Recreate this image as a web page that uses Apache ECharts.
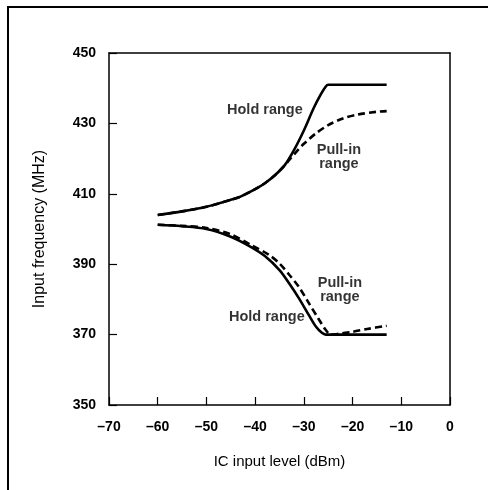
<!DOCTYPE html>
<html>
<head>
<meta charset="utf-8">
<script src="https://cdn.jsdelivr.net/npm/echarts@6/dist/echarts.min.js"></script>
<style>
html, body { margin: 0; padding: 0; background: #fff; }
#chart { width: 488px; height: 490px; }
</style>
</head>
<body>
<div id="chart"></div>
<script>
// values (x = dBm, y = MHz)
var holdUpperX = [-60, -55, -50, -45, -43, -40, -38, -36, -34, -32, -30, -28, -26.5, -25.5, -25, -20, -13];
var holdUpperY = [404, 405, 406.3, 408.3, 409.2, 411.3, 413, 415.2, 418, 422.5, 428, 434.3, 438.3, 440.5, 441, 441, 441];
var pullUpperX = [-60, -55, -50, -45, -43, -40, -38, -36, -34, -33, -31.5, -30, -27.5, -25, -22, -19, -15, -13];
var pullUpperY = [404, 405, 406.3, 408.3, 409.2, 411.3, 413, 415.2, 418, 419.6, 422, 424.2, 427.2, 429.5, 431.4, 432.5, 433.3, 433.5];
var holdLowerX = [-60, -55, -50, -45, -41, -38, -35, -33, -31, -29, -27.5, -26.3, -25.5, -20, -13];
var holdLowerY = [401.2, 400.8, 400, 397.8, 395, 392.3, 388.3, 384.5, 380.3, 375.6, 372.2, 370.5, 370, 370, 370];
var pullLowerX = [-60, -55, -50, -45, -41, -37, -35, -33, -31, -29, -27, -25.5, -24.5, -23, -20, -17, -13];
var pullLowerY = [401.2, 400.9, 400.3, 398.5, 395.6, 392.5, 390.2, 387, 383.5, 379, 374.5, 371.3, 370, 370.2, 370.8, 371.6, 372.5];

var labelTexts = ['Hold range', 'Pull-in\nrange', 'Pull-in\nrange', 'Hold range'];
var labelX = [-38, -22.8, -22.6, -37.6];
var labelY = [433.8, 420.5, 382.7, 375];

function pairs(xs, ys) {
    var out = [];
    for (var i = 0; i < xs.length; i++) {
        out.push([xs[i], ys[i]]);
    }
    return out;
}

var labelData = [];
for (var i = 0; i < labelTexts.length; i++) {
    labelData.push({ value: [labelX[i], labelY[i]], name: labelTexts[i] });
}

var font = 'Liberation Sans, Arial, sans-serif';

function lineSeries(data, dashed) {
    return {
        type: 'line',
        data: data,
        smooth: 0.3,
        showSymbol: false,
        silent: true,
        lineStyle: {
            color: '#000',
            width: 2.6,
            type: dashed ? [7, 4] : 'solid'
        }
    };
}

// plain lines for the top and right sides of the box
var frameAxis = {
    axisLine: { show: true, onZero: false, lineStyle: { color: '#000', width: 1.5 } },
    axisTick: { show: false },
    axisLabel: { show: false },
    splitLine: { show: false }
};

var chart = echarts.init(document.getElementById('chart'));
var option = {
    animation: false,
    backgroundColor: '#fff',
    grid: {
        left: 109,
        right: 38,
        top: 53,
        bottom: 85
    },
    xAxis: [{
        type: 'value',
        min: -70,
        max: 0,
        interval: 10,
        name: 'IC input level (dBm)',
        nameLocation: 'middle',
        nameGap: 49,
        nameTextStyle: { color: '#000', fontSize: 15, fontFamily: font },
        axisLine: { onZero: false, lineStyle: { color: '#000', width: 1.5 } },
        axisTick: { inside: true, length: 8, lineStyle: { color: '#000', width: 1.2 } },
        splitLine: { show: false },
        axisLabel: {
            color: '#000',
            fontSize: 14,
            fontWeight: 'bold',
            fontFamily: font,
            margin: 15,
            formatter: function (v) { return String(v).replace('-', '\u2013'); }
        }
    }, Object.assign({ type: 'value', position: 'top', min: -70, max: 0 }, frameAxis)],
    yAxis: [{
        type: 'value',
        min: 350,
        max: 450,
        interval: 20,
        name: 'Input frequency (MHz)',
        nameLocation: 'middle',
        nameGap: 61,
        nameTextStyle: { color: '#000', fontSize: 16, fontFamily: font },
        axisLine: { show: true, onZero: false, lineStyle: { color: '#000', width: 1.5 } },
        axisTick: { show: true, inside: true, length: 8, lineStyle: { color: '#000', width: 1.2 } },
        splitLine: { show: false },
        axisLabel: {
            color: '#000',
            fontSize: 14,
            fontWeight: 'bold',
            fontFamily: font,
            margin: 13
        }
    }, Object.assign({ type: 'value', position: 'right', min: 350, max: 450 }, frameAxis)],
    graphic: [{
        type: 'polyline',
        shape: { points: [[8, 490], [8, 7], [488, 7]] },
        style: { stroke: '#000', lineWidth: 2, fill: null }
    }],
    series: [
        lineSeries(pairs(holdUpperX, holdUpperY), false),
        lineSeries(pairs(pullUpperX, pullUpperY), true),
        lineSeries(pairs(holdLowerX, holdLowerY), false),
        lineSeries(pairs(pullLowerX, pullLowerY), true),
        {
            type: 'scatter',
            data: labelData,
            symbolSize: 0,
            silent: true,
            label: {
                show: true,
                position: 'inside',
                formatter: function (p) { return p.name; },
                color: '#000',
                fontSize: 14.5,
                fontWeight: 'bold',
                fontFamily: font,
                lineHeight: 14,
                align: 'center'
            }
        }
    ]
};
chart.setOption(option);
</script>
</body>
</html>
